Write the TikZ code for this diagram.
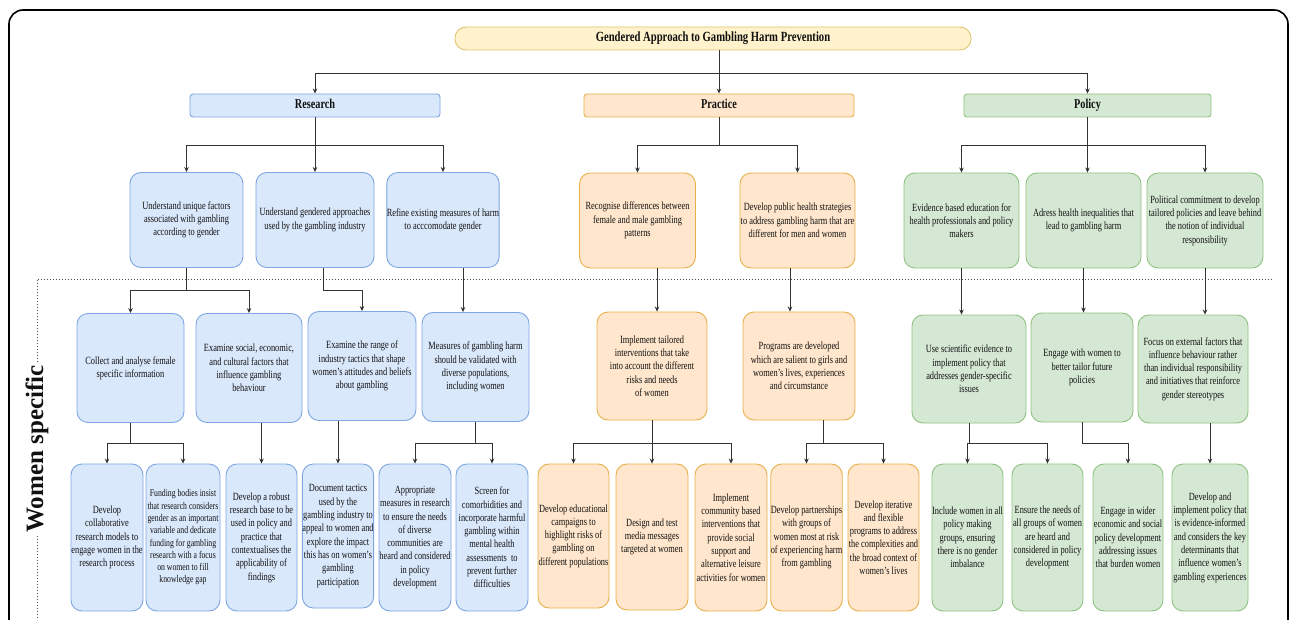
\documentclass[tikz,border=0pt]{standalone}
\usepackage{fontspec}
\setmainfont{Liberation Serif}[FakeStretch=0.76]
\newfontfamily\wsfont{Liberation Serif}
\usetikzlibrary{arrows.meta}
\definecolor{bfill}{HTML}{DAE8FC}
\definecolor{bdraw}{HTML}{7EA6E0}
\definecolor{ofill}{HTML}{FFE6CC}
\definecolor{odraw}{HTML}{E6B14A}
\definecolor{gfill}{HTML}{D5E8D4}
\definecolor{gdraw}{HTML}{8FC27F}
\definecolor{yfill}{HTML}{FFF2CC}
\definecolor{ydraw}{HTML}{E0C472}
\definecolor{linec}{HTML}{333333}
\definecolor{txt}{HTML}{111111}
\tikzset{
  box/.style={draw, rounded corners=11pt, line width=0.9pt, align=center,
    inner xsep=0pt, inner ysep=0pt, text=txt, font=\fontsize{11}{13.3}\selectfont},
  rbox/.style={box, fill=bfill, draw=bdraw},
  obox/.style={box, fill=ofill, draw=odraw},
  gbox/.style={box, fill=gfill, draw=gdraw},
  sz/.style 2 args={minimum width=#1, minimum height=#2},
  cat/.style={draw, rounded corners=3pt, line width=0.9pt, text=txt,
    font=\fontsize{13.5}{16}\selectfont\bfseries, minimum height=23, inner sep=0pt,
    text height=9.5pt, text depth=3pt},
  arr/.style={draw=linec, line width=0.8pt, -{Stealth[length=5pt,width=4.5pt]}},
  ln/.style={draw=linec, line width=0.8pt},
  dashline/.style={draw=black!70, line width=0.7pt, dash pattern=on 1.6pt off 1.4pt},
}
\begin{document}
\begin{tikzpicture}[x=1pt,y=-1pt]
\useasboundingbox (0,0) rectangle (1292,620);
\clip (0,0) rectangle (1292,620);
\fill[white] (0,0) rectangle (1292,620);
\draw[line width=1.6pt, rounded corners=14pt] (9,10) rectangle (1288,680);

% levels
\coordinate (y0) at (0,73);
\coordinate (y1) at (0,145);
\coordinate (y2) at (0,290);
\coordinate (y3) at (0,443);
\coordinate (xR2) at (323,0);
\coordinate (xR3) at (463,0);
\coordinate (xP1) at (657,0);
\coordinate (xP2) at (790,0);
\coordinate (xP2a) at (823,0);

% title and categories
\node[draw=ydraw, fill=yfill, line width=0.9pt, rounded corners=11pt, sz={516}{23}, inner sep=0pt,
  text=txt, font=\fontsize{14}{16}\selectfont\bfseries] (title) at (713,38.5)
  {Gendered Approach to Gambling Harm Prevention};
\node[cat, fill=bfill, draw=bdraw, minimum width=250] (Research) at (315,105.5) {Research};
\node[cat, fill=ofill, draw=odraw, minimum width=270] (Practice) at (719,105.5) {Practice};
\node[cat, fill=gfill, draw=gdraw, minimum width=247] (Policy) at (1087.5,105.5) {Policy};

% level 2
\node[rbox, sz={113}{95}] (R1) at (186.5,220) {Understand unique factors\\associated with gambling\\according to gender};
\node[rbox, sz={118}{95}] (R2) at (315,220) {Understand gendered approaches\\used by the gambling industry};
\node[rbox, sz={112}{95}] (R3) at (443,220) {Refine existing measures of harm\\to acccomodate gender};
\node[obox, sz={116}{95}] (P1) at (637.5,220.5) {Recognise differences between\\female and male gambling\\patterns};
\node[obox, sz={115}{95}] (P2) at (797.5,220.5) {Develop public health strategies\\to address gambling harm that are\\different for men and women};
\node[gbox, sz={115}{95}] (Po1) at (961.5,220.5) {Evidence based education for\\health professionals and policy\\makers};
\node[gbox, sz={115}{95}] (Po2) at (1083.5,220.5) {Adress health inequalities that\\lead to gambling harm};
\node[gbox, sz={116}{95}] (Po3) at (1205,220.5) {Political commitment to develop\\tailored policies and leave behind\\the notion of individual\\responsibility};

% level 3
\node[rbox, sz={107}{109}] (R1a) at (130.5,368) {Collect and analyse female\\specific information};
\node[rbox, sz={106}{109}] (R1b) at (249,368) {Examine social, economic,\\and cultural factors that\\influence gambling\\behaviour};
\node[rbox, sz={108}{109}] (R2a) at (362,366) {Examine the range of\\industry tactics that shape\\women's attitudes and beliefs\\about gambling};
\node[rbox, sz={107}{109}] (R3a) at (475.5,367) {Measures of gambling harm\\should be validated with\\diverse populations,\\including women};
\node[obox, sz={110}{108}] (P1a) at (652,366) {Implement tailored\\interventions that take\\into account the different\\risks and needs\\of women};
\node[obox, sz={112}{108}] (P2a) at (799,366) {Programs are developed\\which are salient to girls and\\women's lives, experiences\\and circumstance};
\node[gbox, sz={114}{108}] (Po1a) at (969,369) {Use scientific evidence to\\implement policy that\\addresses gender-specific\\issues};
\node[gbox, sz={102}{109}] (Po2a) at (1082,367.5) {Engage with women to\\better tailor future\\policies};
\node[gbox, sz={110}{108}] (Po3a) at (1193,369) {Focus on external factors that\\influence behaviour rather\\than individual responsibility\\and initiatives that reinforce\\gender stereotypes};

% level 4
\node[rbox, sz={72}{147}] (L1) at (107,537.5) {Develop\\collaborative\\research models to\\engage women in the\\research process};
\node[rbox, sz={74}{147}, font=\fontsize{10.2}{12.3}\selectfont] (L2) at (183,537.5) {Funding bodies insist\\that research considers\\gender as an important\\variable and dedicate\\funding for gambling\\research with a focus\\on women to fill\\knowledge gap};
\node[rbox, sz={71}{147}] (L3) at (261.5,537.5) {Develop a robust\\research base to be\\used in policy and\\practice that\\contextualises the\\applicability of\\findings};
\node[rbox, sz={70}{144}] (L4) at (338,536) {Document tactics\\used by the\\gambling industry to\\appeal to women and\\explore the impact\\this has on women's\\gambling\\participation};
\node[rbox, sz={72}{147}] (L5) at (415,537.5) {Appropriate\\measures in research\\to ensure the needs\\of diverse\\communities are\\heard and considered\\in policy\\development};
\node[rbox, sz={72}{147}] (L6) at (492,537.5) {Screen for\\comorbidities and\\incorporate harmful\\gambling within\\mental health\\assessments\ \ to\\prevent further\\difficulties};
\node[obox, sz={71}{144}] (L7) at (573.5,536) {Develop educational\\campaigns to\\highlight risks of\\gambling on\\different populations};
\node[obox, sz={72}{146}] (L8) at (652,537) {Design and test\\media messages\\targeted at women};
\node[obox, sz={72}{147}] (L9) at (731,537.5) {Implement\\community based\\interventions that\\provide social\\support and\\alternative leisure\\activities for women};
\node[obox, sz={71}{147}] (L10) at (806.5,537.5) {Develop partnerships\\with groups of\\women most at risk\\of experiencing harm\\from gambling};
\node[obox, sz={71}{147}] (L11) at (883.5,537.5) {Develop iterative\\and flexible\\programs to address\\the complexities and\\the broad context of\\women's lives};
\node[gbox, sz={71}{147}] (L12) at (967.5,537.5) {Include women in all\\policy making\\groups, ensuring\\there is no gender\\imbalance};
\node[gbox, sz={71}{147}] (L13) at (1047.5,537.5) {Ensure the needs of\\all groups of women\\are heard and\\considered in policy\\development};
\node[gbox, sz={70}{147}] (L14) at (1128,537.5) {Engage in wider\\economic and social\\policy development\\addressing issues\\that burden women};
\node[gbox, sz={76}{147}] (L15) at (1210,537.5) {Develop and\\implement policy that\\is evidence-informed\\and considers the key\\determinants that\\influence women's\\gambling experiences};

% women specific label and dashed frame
\node[rotate=90, inner sep=3pt, text=txt, font=\wsfont\fontsize{25}{28}\selectfont\bfseries] (ws) at (37,449) {Women specific};
\coordinate (dtop) at (37,279);
\coordinate (dright) at (1272,279);
\coordinate (dbot) at (37,630);
\draw[dashline] (ws.east -| dtop) -- (dtop) -- (dright);
\draw[dashline] (ws.west -| dtop) -- (dbot);

% level 0 -> 1
\draw[arr] (title.south -| Practice.north) -- (Practice.north);
\draw[arr] (Practice.north |- y0) -| (Research.north);
\draw[arr] (Practice.north |- y0) -| (Policy.north);

% level 1 -> 2
\draw[arr] (Research.south) -- (R2.north -| Research.south);
\draw[arr] (Research.south |- y1) -| (R1.north);
\draw[arr] (Research.south |- y1) -| (R3.north);
\draw[ln] (Practice.south) -- (Practice.south |- y1);
\draw[arr] (Practice.south |- y1) -| (P1.north);
\draw[arr] (Practice.south |- y1) -| (P2.north);
\draw[arr] (Policy.south) -- (Po2.north -| Policy.south);
\draw[arr] (Policy.south |- y1) -| (Po1.north);
\draw[arr] (Policy.south |- y1) -| (Po3.north);

% level 2 -> 3
\draw[ln] (R1.south) -- (R1.south |- y2);
\draw[arr] (R1.south |- y2) -| (R1a.north);
\draw[arr] (R1.south |- y2) -| (R1b.north);
\draw[arr] (R2.south -| xR2) |- (R2a.north |- y2) -- (R2a.north);
\draw[arr] (R3.south -| xR3) -- (R3a.north -| xR3);
\draw[arr] (P1.south -| xP1) -- (P1a.north -| xP1);
\draw[arr] (P2.south -| xP2) -- (P2a.north -| xP2);
\draw[arr] (Po1.south) -- (Po1a.north -| Po1.south);
\draw[arr] (Po2.south) -- (Po2a.north -| Po2.south);
\draw[arr] (Po3.south) -- (Po3a.north -| Po3.south);

% level 3 -> 4
\draw[ln] (R1a.south) -- (R1a.south |- y3);
\draw[arr] (R1a.south |- y3) -| (L1.north);
\draw[arr] (R1a.south |- y3) -| (L2.north);
\draw[arr] (L3.north |- R1b.south) -- (L3.north);
\draw[arr] (L4.north |- R2a.south) -- (L4.north);
\draw[ln] (R3a.south) -- (R3a.south |- y3);
\draw[arr] (R3a.south |- y3) -| (L5.north);
\draw[arr] (R3a.south |- y3) -| (L6.north);
\draw[arr] (P1a.south) -- (L8.north);
\draw[arr] (P1a.south |- y3) -| (L7.north);
\draw[arr] (P1a.south |- y3) -| (L9.north);
\draw[ln] (P2a.south -| xP2a) -- (y3 -| xP2a);
\draw[arr] (y3 -| xP2a) -| (L10.north);
\draw[arr] (y3 -| xP2a) -| (L11.north);
\draw[ln] (Po1a.south) -- (Po1a.south |- y3);
\draw[arr] (Po1a.south |- y3) -| (L12.north);
\draw[arr] (Po1a.south |- y3) -| (L13.north);
\draw[arr] (Po2a.south) |- (L14.north |- y3) -- (L14.north);
\draw[arr] (L15.north |- Po3a.south) -- (L15.north);
\end{tikzpicture}
\end{document}
